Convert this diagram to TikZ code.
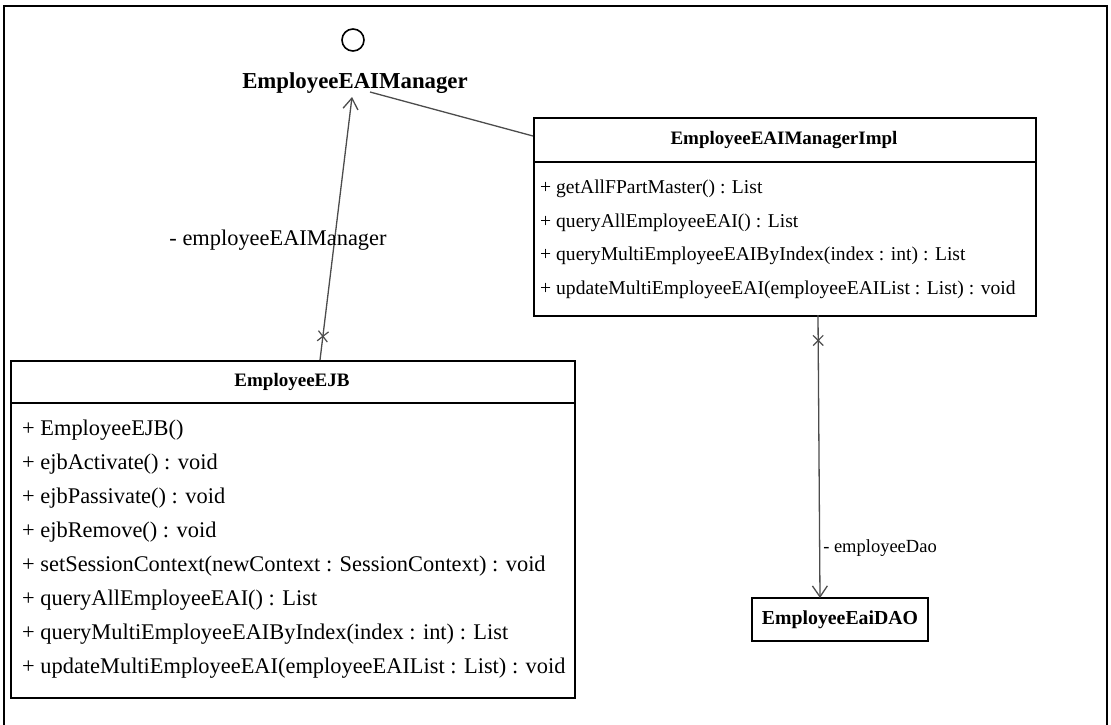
\documentclass[tikz,border=0pt]{standalone}
\usepackage{fontspec}
\setmainfont{Liberation Serif}
\usetikzlibrary{arrows.meta,shapes.misc}
\begin{document}
\begin{tikzpicture}[x=1pt,y=-1pt,
  classbox/.style={draw, line width=2pt, inner sep=0pt, anchor=north west},
  member/.style={anchor=west, inner sep=0pt, font=\fontsize{19.6}{22}\selectfont},
  bigmember/.style={anchor=west, inner sep=0pt, font=\fontsize{22.4}{26}\selectfont},
  heading/.style={inner sep=0pt, font=\bfseries\fontsize{19}{22}\selectfont},
  link/.style={draw=black!70, line width=1.3pt},
  navarrow/.style={-{Straight Barb[length=11pt,width=15pt,line width=1.3pt]}},
  noNav/.style={cross out, draw=black!70, line width=1.2pt, minimum size=9pt, inner sep=0pt, sloped}
]
\useasboundingbox (0,0) rectangle (1111,724);
% outer frame, open at the bottom edge of the page
\draw[line width=2pt] (4,726) -- (4,6) -- (1107,6) -- (1107,726);

% interface (lollipop)
\node[circle, draw, line width=1.6pt, minimum size=22pt, inner sep=0pt] (iface) at (353,40) {};
\node[inner sep=0pt, font=\bfseries\fontsize{22.8}{26}\selectfont] (ifaceT) at (355,83) {EmployeeEAIManager};

% EmployeeEAIManagerImpl
\node[classbox, minimum width=502pt, minimum height=198pt] (impl) at (533,117) {};
\draw[line width=1.2pt] (533,162) -- (1035,162);
\node[heading] (implT) at (784,140) {EmployeeEAIManagerImpl};
\node[member] (i1) at (540,189) {+ getAllFPartMaster() : List};
\node[member] (i2) at (540,222.5) {+ queryAllEmployeeEAI() : List};
\node[member] (i3) at (540,256) {+ queryMultiEmployeeEAIByIndex(index : int) : List};
\node[member] (i4) at (540,289.5) {+ updateMultiEmployeeEAI(employeeEAIList : List) : void};

% EmployeeEJB
\node[classbox, minimum width=564pt, minimum height=337pt] (ejb) at (10,360) {};
\draw[line width=1.2pt] (10,403) -- (574,403);
\node[heading] (ejbT) at (292,382) {EmployeeEJB};
\node[bigmember] (e1) at (22,430) {+ EmployeeEJB()};
\node[bigmember] (e2) at (22,464) {+ ejbActivate() : void};
\node[bigmember] (e3) at (22,498) {+ ejbPassivate() : void};
\node[bigmember] (e4) at (22,532) {+ ejbRemove() : void};
\node[bigmember] (e5) at (22,566) {+ setSessionContext(newContext : SessionContext) : void};
\node[bigmember] (e6) at (22,600) {+ queryAllEmployeeEAI() : List};
\node[bigmember] (e7) at (22,634) {+ queryMultiEmployeeEAIByIndex(index : int) : List};
\node[bigmember] (e8) at (22,668) {+ updateMultiEmployeeEAI(employeeEAIList : List) : void};

% EmployeeEaiDAO
\node[draw, line width=2pt, minimum width=176pt, minimum height=43pt, inner sep=0pt,
      font=\bfseries\fontsize{19.8}{22}\selectfont] (dao) at (840,619.5) {EmployeeEaiDAO};

% connector end points
\coordinate (ejbEnd) at (320,360);
\coordinate (mgrEnd) at (352,97);
\coordinate (mgrSide) at (370,92);
\coordinate (implSide) at (533,136);
\coordinate (implEnd) at (818,315);
\coordinate (daoEnd) at (820,598);

% realization of the interface
\draw[link] (mgrSide) -- (implSide);
% navigable associations
\draw[link, navarrow] (ejbEnd) -- node[noNav, pos=0.09] (x1) {} (mgrEnd);
\draw[link, navarrow] (implEnd) -- node[noNav, pos=0.09] (x2) {} (daoEnd);

% role names
\node[inner sep=0pt, font=\fontsize{22.4}{26}\selectfont] (r1) at (278,240) {- employeeEAIManager};
\node[inner sep=0pt, font=\fontsize{18.5}{21}\selectfont] (r2) at (880,548) {- employeeDao};
\end{tikzpicture}
\end{document}
